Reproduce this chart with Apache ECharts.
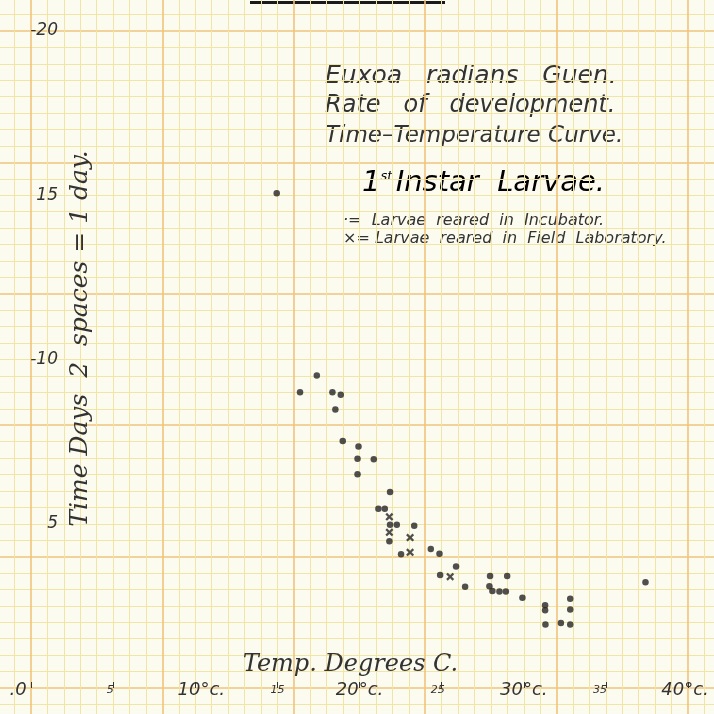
<!DOCTYPE html>
<html>
<head>
<meta charset="utf-8">
<script src="https://cdn.jsdelivr.net/npm/echarts@6/dist/echarts.min.js"></script>
<style>
html,body{margin:0;padding:0;background:#fcfbef;}
#chart{width:714px;height:714px;}
</style>
</head>
<body>
<div id="chart"></div>
<script>
// ---- data ----
const incubatorTemp = [14.96,16.38,17.40,18.35,18.86,18.53,18.98,19.94,19.88,20.87,19.88,21.86,21.15,21.54,21.86,22.27,23.33,21.82,22.53,24.34,24.87,25.88,24.91,26.43,27.95,28.99,27.91,28.09,28.52,28.91,29.92,31.30,31.30,31.32,32.26,32.83,32.83,32.83,37.41];
const incubatorDays = [15.06,9.00,9.51,9.00,8.93,8.48,7.52,7.35,6.98,6.96,6.51,5.97,5.46,5.46,4.97,4.97,4.94,4.47,4.07,4.23,4.09,3.70,3.44,3.08,3.41,3.41,3.10,2.95,2.94,2.94,2.75,2.52,2.37,1.93,1.98,2.72,2.39,1.93,3.22];
const fieldTemp = [21.82,21.82,23.08,23.08,25.52];
const fieldDays = [5.21,4.74,4.58,4.13,3.39];
const xTickLabels = {0:'.0',5:'5',10:'10°c.',15:'15',20:'20°c.',25:'25',30:'30°c.',35:'35',40:'40°c.'};
const yTickLabels = {0:'',5:'5',10:'-10',15:'15',20:'-20'};
const titleLines = ['Euxoa   radians   Guen.','Rate   of   development.','Time–Temperature Curve.'];
const legendLines = ['·=  Larvae  reared  in  Incubator.','×= Larvae  reared  in  Field  Laboratory.'];

const ink = '#333333';
const font = '"DejaVu Sans"';
const crossPath = 'path://M0,2L2,0L5,3L8,0L10,2L7,5L10,8L8,10L5,7L2,10L0,8L3,5Z';

const chart = echarts.init(document.getElementById('chart'), null, {renderer:'canvas'});

const xPad = {0:[0,26,0,0],5:[0,6,0,0],10:[0,0,0,12],15:[0,0,0,0],20:[0,0,0,0],25:[0,8,0,0],30:[0,0,0,0],35:[0,12,0,0],40:[0,6,0,0]};

chart.setOption({
  backgroundColor:'#fcfbef',
  animation:false,
  grid:[
    {left:31, top:31, width:657, height:657, outerBoundsMode:'none', containLabel:false},
    {left:31-8*16.425, top:31-4*32.85, width:56*16.425, height:28*32.85, outerBoundsMode:'none', containLabel:false}
  ],
  xAxis:[
    {type:'value', gridIndex:0, min:0, max:40, interval:5,
     name:'Temp. Degrees C.', nameLocation:'middle', nameGap:-35, nameMoveOverlap:false,
     nameTextStyle:{fontFamily:'"DejaVu Serif"', fontStyle:'italic', fontSize:24, color:ink, padding:[0,18,0,0]},
     axisLine:{show:false},
     axisTick:{show:true, inside:true, length:6, lineStyle:{color:ink, width:1}},
     splitLine:{show:false},
     axisLabel:{margin:2, verticalAlign:'middle',
       formatter:function(v){
         const t = xTickLabels[v];
         const big = t.length>2 || v===0;
         return '{'+(big?'b':'s')+v+'|'+t+'}';
       },
       rich:(function(){const r={};Object.keys(xTickLabels).forEach(k=>{const v=+k;const big=xTickLabels[k].length>2||v===0;
         r[(big?'b':'s')+v]={fontFamily:font,fontStyle:'italic',fontSize:big?18:11,color:ink,padding:xPad[v]};});return r;})()
     }},
    {type:'value', gridIndex:1, min:-8, max:48, interval:8,
     axisLine:{show:false}, axisTick:{show:false}, axisLabel:{show:false},
     splitLine:{show:true, lineStyle:{color:'#f0c47c', width:1.6}},
     minorTick:{show:false, splitNumber:8},
     minorSplitLine:{show:true, lineStyle:{color:'#f1e4a4', width:1}}}
  ],
  yAxis:[
    {type:'value', gridIndex:0, min:0, max:20, interval:5,
     name:'Time Days  2  spaces = 1 day.', nameLocation:'middle', nameGap:-62, nameRotate:90, nameMoveOverlap:false,
     nameTextStyle:{fontFamily:'"DejaVu Serif"', fontStyle:'italic', fontSize:25, color:ink, padding:[0,0,0,42]},
     axisLine:{show:false}, axisTick:{show:false}, splitLine:{show:false},
     axisLabel:{inside:true, align:'right', margin:27, padding:[0,0,8,0],
       fontFamily:font, fontStyle:'italic', fontSize:17, color:ink,
       formatter:function(v){return yTickLabels[v];}}},
    {type:'value', gridIndex:1, min:-4, max:24, interval:4,
     axisLine:{show:false}, axisTick:{show:false}, axisLabel:{show:false},
     splitLine:{show:true, lineStyle:{color:'#f0c47c', width:1.6}},
     minorTick:{show:false, splitNumber:8},
     minorSplitLine:{show:true, lineStyle:{color:'#f1e4a4', width:1}}}
  ],
  series:[
    {type:'scatter', name:'Incubator', xAxisIndex:0, yAxisIndex:0, symbol:'circle', symbolSize:6.5,
     itemStyle:{color:'#242424'},
     data:incubatorTemp.map((t,i)=>[t,incubatorDays[i]])},
    {type:'scatter', name:'Field Laboratory', xAxisIndex:0, yAxisIndex:0, symbol:crossPath, symbolSize:8,
     itemStyle:{color:'#242424'},
     data:fieldTemp.map((t,i)=>[t,fieldDays[i]])}
  ],
  graphic:[
    {type:'rect', shape:{x:250,y:1,width:195,height:3}, style:{fill:'#1a1a1a'}},
    {type:'text', left:325, top:64, style:{text:titleLines[0], font:'italic 25px '+font, fill:ink}},
    {type:'text', left:325, top:94, style:{text:titleLines[1], font:'italic 24px '+font, fill:ink}},
    {type:'text', left:325, top:125, style:{text:titleLines[2], font:'italic 23px '+font, fill:ink}},
    {type:'text', left:362, top:169, style:{
       text:'{a|1}{sup|st} {a|Instar  Larvae.}',
       rich:{a:{fontFamily:font, fontStyle:'italic', fontSize:29, color:ink},
             sup:{fontFamily:font, fontStyle:'italic', fontSize:13, color:ink, padding:[0,0,14,0]}}}},
    {type:'text', left:343, top:213, style:{text:legendLines[0], font:'italic 16px '+font, fill:ink}},
    {type:'text', left:343, top:231, style:{text:legendLines[1], font:'italic 16px '+font, fill:ink}}
  ]
});
</script>
</body>
</html>
